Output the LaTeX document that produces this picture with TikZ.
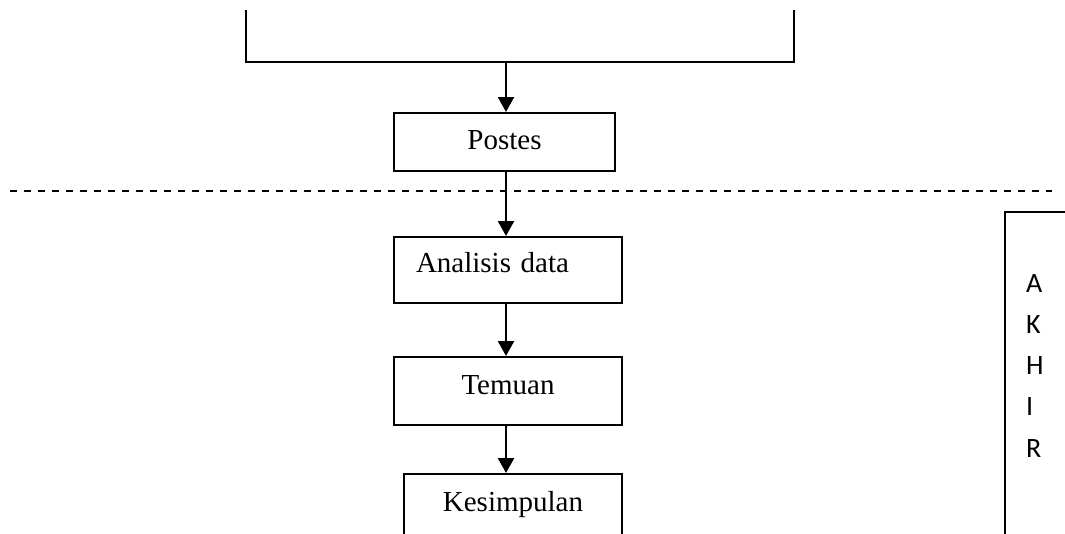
\documentclass[tikz,border=0pt]{standalone}
\usepackage{fontspec}
\setmainfont{Liberation Serif}
\newfontfamily\akfont{Carlito}
\usetikzlibrary{arrows.meta}
\tikzset{
  boxnode/.style={draw, line width=1.6pt, inner ysep=0pt, inner xsep=0pt, anchor=north,
    font=\fontsize{29}{34}\selectfont},
  flowarrow/.style={line width=2.2pt, -{Triangle[length=15pt,width=16pt]}},
  frameline/.style={line width=1.7pt},
  sepline/.style={line width=1.6pt, dash pattern=on 7pt off 7pt}
}
\begin{document}
\begin{tikzpicture}[x=1pt,y=-1pt]
\path[use as bounding box, clip] (0,0) rectangle (1065,533);
% top bracket
\coordinate (btl) at (246,10);
\coordinate (bbl) at (246,62);
\coordinate (bbr) at (794,62);
\coordinate (btr) at (794,10);
\coordinate (arrTop) at (506,62);
\coordinate (spine) at (506,0);
\draw[frameline] (btl) -- (bbl) -- (bbr) -- (btr);
% boxes
\node[boxnode, minimum width=221pt, text height=37pt, text depth=21pt] (postes) at (504.5,112) {Postes};
\node[boxnode, text width=184pt, inner xsep=22pt, align=left, text height=36pt, text depth=30pt] (analisis) at (508,236) {Analisis data};
\node[boxnode, minimum width=228pt, text height=38pt, text depth=30pt] (temuan) at (508,356) {Temuan};
\node[boxnode, minimum width=218pt, text height=38pt, text depth=42pt] (kesimpulan) at (513,473) {Kesimpulan};
% arrows
\draw[flowarrow] (arrTop) -- (spine |- postes.north);
\draw[flowarrow] (spine |- postes.south) -- (spine |- analisis.north);
\draw[flowarrow] (spine |- analisis.south) -- (spine |- temuan.north);
\draw[flowarrow] (spine |- temuan.south) -- (spine |- kesimpulan.north);
% dashed separator
\coordinate (dl) at (10,191);
\coordinate (dr) at (1052,191);
\draw[sepline] (dl) -- (dr);
% AKHIR box
\coordinate (akTR) at (1067,212);
\coordinate (akTL) at (1005,212);
\coordinate (akBL) at (1005,535);
\draw[frameline] (akTR) -- (akTL) -- (akBL);
\node[anchor=base west, inner sep=0pt, font=\akfont\fontsize{28}{32}\selectfont] (akhir) at (1026,292)
  {\vtop{\baselineskip=41.25pt\halign{#\hfil\cr A\cr K\cr H\cr I\cr R\cr}}};
\end{tikzpicture}
\end{document}
